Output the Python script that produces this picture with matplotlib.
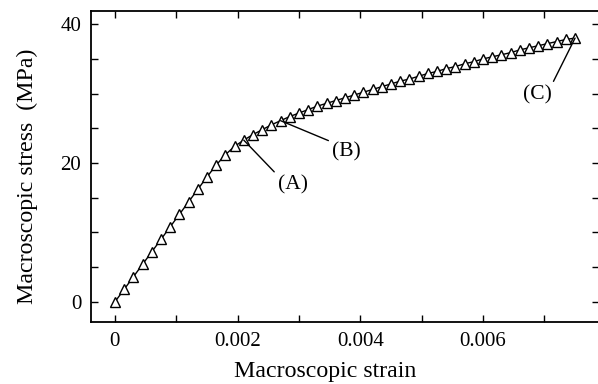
import numpy as np
import matplotlib
matplotlib.use("Agg")
import matplotlib.pyplot as plt
from matplotlib.ticker import FixedLocator, MultipleLocator, FixedFormatter

#%% Data
strain = [i * 0.00015 for i in range(51)]
stress = [0.0, 1.8, 3.6, 5.4, 7.2, 9.0, 10.8, 12.6, 14.4, 16.2,
          18.0, 19.7, 21.2, 22.4, 23.3, 24.1, 24.8, 25.5, 26.1, 26.7,
          27.2, 27.7, 28.2, 28.6, 29.0, 29.4, 29.8, 30.2, 30.6, 31.0,
          31.4, 31.8, 32.1, 32.5, 32.9, 33.2, 33.6, 33.9, 34.3, 34.6,
          35.0, 35.3, 35.6, 35.9, 36.3, 36.6, 36.9, 37.2, 37.5, 37.8,
          38.0]

x_ticks = [0, 0.002, 0.004, 0.006]
x_tick_labels = ['0', '0.002', '0.004', '0.006']
y_ticks = [0, 20, 40]
y_tick_labels = ['0', '20', '40']

# annotated points: (label, index on curve, label position)
notes = [('(A)', 14, (0.00290, 16.8)),
         ('(B)', 18, (0.00378, 21.6)),
         ('(C)', 50, (0.00688, 29.8))]

#%% Figure
plt.rcParams['font.family'] = ['Liberation Serif', 'DejaVu Serif']

W, H = 598, 384
fig = plt.figure(figsize=(W / 100, H / 100), dpi=100)
ax = fig.add_axes([91 / W, (H - 322) / H, (599 - 91) / W, (322 - 11) / H])

ax.plot(strain, stress, color='black', lw=1.0, marker='^', markersize=7.5,
        markerfacecolor='white', markeredgecolor='black', markeredgewidth=1.0)

for label, idx, pos in notes:
    relpos = (1, 1) if label == '(C)' else (0, 1)
    ax.annotate(label, xy=(strain[idx], stress[idx]), xytext=pos,
                ha='center', va='center', fontsize=15.5,
                arrowprops=dict(arrowstyle='-', color='black', lw=1.0,
                                shrinkA=1, shrinkB=0, relpos=relpos))

ax.set_xlim(-0.00039, 0.00789)
ax.set_ylim(-2.9, 41.9)

ax.xaxis.set_major_locator(FixedLocator(x_ticks))
ax.xaxis.set_major_formatter(FixedFormatter(x_tick_labels))
ax.xaxis.set_minor_locator(MultipleLocator(0.001))
ax.yaxis.set_major_locator(FixedLocator(y_ticks))
ax.yaxis.set_major_formatter(FixedFormatter(y_tick_labels))
ax.yaxis.set_minor_locator(MultipleLocator(5))

ax.tick_params(which='both', direction='in', top=True, right=True,
               length=5, width=1.0, labelsize=15, pad=7)

for s in ax.spines.values():
    s.set_linewidth(1.3)

ax.set_xlabel('Macroscopic strain', fontsize=17.2)
ax.set_ylabel('Macroscopic stress  (MPa)', fontsize=17.2)
ax.xaxis.set_label_coords(0.461, -0.125)
ax.yaxis.set_label_coords(-0.104, 0.468)

fig.savefig('out.png', dpi=100)
